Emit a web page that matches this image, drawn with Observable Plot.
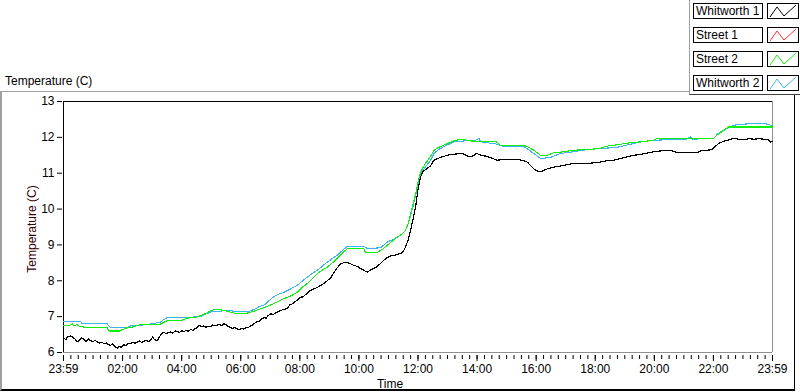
<!DOCTYPE html>
<html><head><meta charset="utf-8">
<script src="https://cdn.jsdelivr.net/npm/d3@7"></script>
<script src="https://cdn.jsdelivr.net/npm/@observablehq/plot@0.6"></script>
<style>
body{margin:0;background:#fff;}
#wrap{position:relative;width:800px;height:392px;overflow:hidden;font-family:"Liberation Sans",Arial,sans-serif;font-size:12px;color:#000;background:#fff;}
#outer{position:absolute;left:0;top:91px;width:792px;height:297px;border-top:1px solid #a0a0a0;border-left:2px solid #a0a0a0;border-right:1px solid #000;border-bottom:2px solid #000;}
#chart{position:absolute;left:0;top:0;}
#legend{position:absolute;left:689px;top:-2px;width:120px;height:96px;background:#fff;border-left:1px solid #a0a0a0;border-bottom:1px solid #404040;}
.lbl{position:absolute;left:3px;width:68px;height:14px;border:1px solid #000;line-height:14px;padding-left:0;background:#fff;white-space:nowrap;}
.lbl span{margin-left:2px;}
.sw{position:absolute;left:77px;width:30px;height:14px;border:1px solid #000;background:#fff;}
#title{position:absolute;left:5px;top:74px;}
#ylab{position:absolute;left:32px;top:229px;transform:translate(-50%,-50%) rotate(-90deg);white-space:nowrap;color:#300;}
#xlab{position:absolute;left:390px;top:377px;transform:translateX(-50%);}
</style>
</head><body>
<div id="wrap">
  <div id="outer"></div>
  <div id="chart"></div>
  <div id="title">Temperature (C)</div>
  <div id="ylab">Temperature (C)</div>
  <div id="xlab">Time</div>
  <div id="legend"></div>
</div>
<script>
// Series names & colours (legend order)
const seriesNames = ["Whitworth 1", "Street 1", "Street 2", "Whitworth 2"];
const seriesColors = ["#000000", "#ff3030", "#10f010", "#3cb4f0"];

// X axis: hours since 23:59
const xMajorTicks = [0, 2, 4, 6, 8, 10, 12, 14, 16, 18, 20, 22, 24];
const xTickLabels = ["23:59", "02:00", "04:00", "06:00", "08:00", "10:00", "12:00", "14:00", "16:00", "18:00", "20:00", "22:00", "23:59"];
const xMinorTicks = d3.range(0, 24.01, 0.25);
const yTicks = [6, 7, 8, 9, 10, 11, 12, 13];

// Whitworth 1 (black)
const w1Hours = [0.00,0.08,0.15,0.24,0.32,0.40,0.46,0.55,0.62,0.69,0.76,0.84,0.91,1.00,1.07,1.14,1.22,1.30,1.37,1.45,1.52,1.59,1.67,1.74,1.82,1.88,1.95,2.04,2.12,2.20,2.27,2.35,2.42,2.49,2.57,2.64,2.72,2.80,2.87,2.95,3.02,3.08,3.17,3.24,3.32,3.40,3.47,3.55,3.62,3.70,3.78,3.85,3.93,4.00,4.07,4.15,4.22,4.30,4.38,4.45,4.53,4.60,4.67,4.75,4.82,4.90,4.98,5.05,5.12,5.20,5.27,5.35,5.43,5.50,5.58,5.65,5.73,5.80,5.88,5.95,6.03,6.10,6.18,6.25,6.33,6.40,6.48,6.56,6.63,6.70,6.78,6.86,6.93,7.01,7.10,7.18,7.27,7.35,7.45,7.57,7.65,7.75,7.85,8.02,8.10,8.20,8.36,8.50,8.60,8.70,8.80,8.90,9.04,9.15,9.26,9.40,9.55,9.70,9.83,9.95,10.05,10.15,10.28,10.40,10.50,10.62,10.73,10.85,10.96,11.10,11.18,11.30,11.41,11.50,11.58,11.67,11.75,11.84,11.92,12.00,12.09,12.17,12.25,12.42,12.54,12.70,12.87,13.05,13.21,13.50,13.62,13.72,13.85,14.00,14.05,14.20,14.34,14.50,14.68,14.85,15.02,15.36,15.55,15.70,15.85,15.98,16.15,16.30,16.49,16.65,16.82,17.05,17.27,17.50,17.73,17.95,18.18,18.40,18.63,18.85,19.08,19.30,19.53,19.75,19.98,20.20,20.44,20.60,20.77,20.95,21.11,21.30,21.45,21.60,21.80,21.95,22.05,22.18,22.32,22.47,22.69,22.85,23.03,23.20,23.37,23.55,23.71,23.85,23.93,24.00];
const w1Temps = [6.40,6.36,6.45,6.46,6.42,6.37,6.30,6.35,6.41,6.36,6.30,6.38,6.33,6.30,6.34,6.30,6.26,6.29,6.24,6.27,6.22,6.20,6.24,6.17,6.12,6.18,6.14,6.22,6.19,6.26,6.24,6.29,6.25,6.29,6.33,6.28,6.31,6.34,6.30,6.35,6.43,6.36,6.33,6.42,6.53,6.57,6.52,6.56,6.57,6.54,6.60,6.59,6.56,6.61,6.58,6.62,6.59,6.64,6.62,6.66,6.70,6.76,6.72,6.74,6.70,6.73,6.72,6.77,6.74,6.76,6.79,6.75,6.80,6.78,6.72,6.70,6.67,6.70,6.66,6.63,6.68,6.65,6.70,6.69,6.74,6.77,6.82,6.86,6.88,6.93,6.97,6.96,7.03,7.08,7.06,7.11,7.14,7.17,7.20,7.22,7.32,7.36,7.42,7.54,7.55,7.62,7.73,7.78,7.82,7.87,7.92,7.98,8.08,8.22,8.36,8.48,8.52,8.48,8.43,8.40,8.34,8.30,8.24,8.30,8.34,8.40,8.48,8.58,8.65,8.70,8.70,8.74,8.76,8.82,8.94,9.15,9.41,9.75,10.06,10.55,10.90,11.05,11.10,11.20,11.36,11.42,11.47,11.51,11.53,11.55,11.50,11.46,11.48,11.56,11.52,11.49,11.47,11.42,11.36,11.38,11.38,11.38,11.36,11.31,11.18,11.08,11.04,11.10,11.15,11.18,11.20,11.24,11.27,11.27,11.27,11.29,11.31,11.35,11.36,11.41,11.46,11.50,11.52,11.56,11.60,11.62,11.64,11.62,11.58,11.57,11.57,11.57,11.58,11.63,11.64,11.66,11.74,11.83,11.88,11.92,11.97,11.95,11.94,11.96,11.95,11.96,11.95,11.93,11.87,11.88];

// Street 1 (red) – no trace visible in the chart
const s1Hours = [];
const s1Temps = [];

// Street 2 (green)
const s2Hours = [0.00,0.20,0.30,0.35,0.45,0.55,0.69,1.00,1.48,1.53,1.90,2.00,2.15,2.40,2.60,3.28,3.40,3.51,3.96,4.19,4.50,4.64,4.85,4.98,5.15,5.31,5.55,5.77,6.22,6.40,6.61,6.85,7.12,7.30,7.46,7.70,7.91,8.05,8.25,8.45,8.59,8.75,8.93,9.10,9.26,9.45,9.60,10.17,10.22,10.62,10.80,10.96,11.15,11.30,11.45,11.58,11.67,11.75,11.84,11.92,12.00,12.09,12.17,12.25,12.42,12.54,12.70,12.87,13.05,13.21,13.44,13.60,13.78,14.20,14.68,14.79,15.58,15.75,15.92,16.05,16.15,16.37,16.60,16.94,17.27,17.70,18.18,18.35,18.63,19.19,19.60,19.98,20.10,22.00,22.12,22.35,22.52,24.00];
const s2Temps = [6.75,6.76,6.80,6.74,6.78,6.72,6.71,6.70,6.69,6.60,6.60,6.64,6.69,6.72,6.78,6.79,6.84,6.89,6.88,6.96,6.98,7.03,7.10,7.17,7.20,7.19,7.15,7.10,7.10,7.14,7.20,7.27,7.36,7.44,7.50,7.58,7.68,7.80,7.92,8.08,8.20,8.29,8.38,8.50,8.62,8.78,8.89,8.89,8.79,8.79,8.88,8.99,9.12,9.22,9.30,9.41,9.60,9.87,10.15,10.43,10.75,11.04,11.16,11.27,11.46,11.64,11.72,11.78,11.85,11.90,11.95,11.93,11.90,11.89,11.87,11.78,11.78,11.72,11.64,11.56,11.50,11.50,11.57,11.60,11.64,11.66,11.69,11.75,11.78,11.85,11.88,11.92,11.97,11.97,12.06,12.20,12.29,12.29];

// Whitworth 2 (light blue)
const w2Hours = [0.00,0.58,0.62,1.48,1.59,2.15,2.30,2.60,3.00,3.28,3.40,3.51,4.20,4.64,4.85,4.98,5.54,5.80,6.22,6.45,6.61,6.80,7.12,7.30,7.46,7.70,7.91,8.05,8.25,8.45,8.59,8.75,8.93,9.10,9.26,9.45,9.60,10.17,10.28,10.73,10.96,11.15,11.30,11.45,11.58,11.67,11.75,11.84,11.92,12.00,12.09,12.17,12.25,12.42,12.54,12.70,12.87,13.05,13.21,13.55,13.90,14.06,14.12,14.34,14.68,14.85,15.02,15.58,15.75,15.92,16.05,16.15,16.49,16.82,17.27,17.73,18.18,18.74,19.30,19.60,19.98,21.10,21.22,21.30,22.00,22.18,22.47,22.69,23.03,23.71,23.93,24.00];
const w2Temps = [6.87,6.87,6.80,6.80,6.69,6.69,6.75,6.76,6.80,6.85,6.92,6.97,6.98,7.00,7.08,7.13,7.17,7.15,7.13,7.20,7.27,7.33,7.56,7.63,7.68,7.78,7.87,7.97,8.10,8.22,8.29,8.40,8.52,8.62,8.71,8.85,8.96,8.96,8.90,8.92,9.08,9.15,9.22,9.30,9.41,9.60,9.83,10.10,10.39,10.70,10.99,11.08,11.18,11.35,11.55,11.66,11.74,11.81,11.87,11.90,11.90,11.97,11.88,11.85,11.81,11.76,11.74,11.74,11.65,11.55,11.47,11.41,11.44,11.55,11.60,11.66,11.69,11.72,11.83,11.88,11.92,11.95,12.02,11.95,11.97,12.12,12.25,12.34,12.37,12.39,12.34,12.34];

const toRows = (hs, ts) => hs.map((h, i) => ({h, t: ts[i]}));
const w1 = toRows(w1Hours, w1Temps);
const s1 = toRows(s1Hours, s1Temps);
const s2 = toRows(s2Hours, s2Temps);
const w2 = toRows(w2Hours, w2Temps);

const chart = Plot.plot({
  width: 800,
  height: 392,
  marginLeft: 62,
  marginRight: 28,
  marginTop: 101,
  marginBottom: 37,
  insetLeft: 1,
  insetBottom: 3,
  style: {background: "transparent", fontFamily: "'Liberation Sans', Arial, sans-serif", fontSize: "12px", color: "#000", overflow: "visible"},
  x: {domain: [0, 24]},
  y: {domain: [6, 13]},
  marks: [
    Plot.ruleY([13], {x1: 0, x2: 24, stroke: "#000"}),
    Plot.ruleX([0], {y1: 6, y2: 13, stroke: "#000"}),
    Plot.ruleX([24], {y1: 6, y2: 13, stroke: "#909090"}),
    Plot.ruleY([6], {x1: 0, x2: 24, stroke: "#909090"}),
    Plot.axisY({ticks: yTicks, tickSize: 5, tickPadding: 3, label: null, tickFormat: d => String(d)}),
    Plot.axisX({ticks: xMinorTicks, tickSize: 4, tickFormat: () => "", label: null}),
    Plot.axisX({ticks: xMajorTicks, tickSize: 6, tickPadding: 3, label: null, tickFormat: d => xTickLabels[xMajorTicks.indexOf(d)]}),
    Plot.line(w2, {x: "h", y: "t", stroke: seriesColors[3], strokeWidth: 1.1, shapeRendering: "crispEdges"}),
    Plot.line(s1, {x: "h", y: "t", stroke: seriesColors[1], strokeWidth: 1.1, shapeRendering: "crispEdges"}),
    Plot.line(s2, {x: "h", y: "t", stroke: seriesColors[2], strokeWidth: 1.1, shapeRendering: "crispEdges"}),
    Plot.line(w1, {x: "h", y: "t", stroke: seriesColors[0], strokeWidth: 1.2, shapeRendering: "crispEdges"})
  ]
});
document.getElementById("chart").appendChild(chart);

// Legend
const legend = document.getElementById("legend");
seriesNames.forEach((name, i) => {
  const top = 5 + 24 * i;
  const lbl = document.createElement("div");
  lbl.className = "lbl";
  lbl.style.top = top + "px";
  lbl.innerHTML = "<span>" + name + "</span>";
  legend.appendChild(lbl);
  const sw = document.createElement("div");
  sw.className = "sw";
  sw.style.top = top + "px";
  sw.innerHTML = '<svg width="30" height="14"><polyline points="2,13 9,3 16,12 28,1" fill="none" stroke="' + seriesColors[i] + '" stroke-width="1"/></svg>';
  legend.appendChild(sw);
});
</script>
</body></html>
